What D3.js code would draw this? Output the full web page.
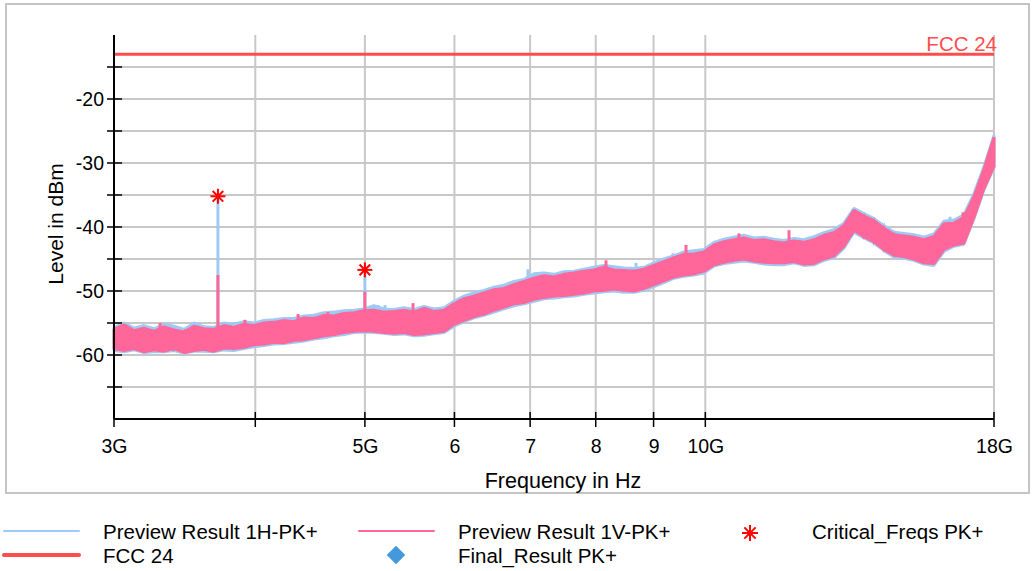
<!DOCTYPE html>
<html>
<head>
<meta charset="utf-8">
<script src="https://cdn.jsdelivr.net/npm/d3@7"></script>
<style>
  body { margin: 0; background: #fff; }
  svg { display: block; font-family: "Liberation Sans", Arial, sans-serif; }
</style>
</head>
<body>
<div class="chart"></div>
<script>
// sample frequencies (GHz) and trace envelopes (dBm)
const freqGHz = [3.000, 3.062, 3.125, 3.189, 3.255, 3.321, 3.390, 3.460, 3.531, 3.603,
  3.677, 3.753, 3.830, 3.909, 3.989, 4.071, 4.155, 4.241, 4.328, 4.417,
  4.508, 4.600, 4.695, 4.792, 4.890, 4.991, 5.093, 5.198, 5.305, 5.414,
  5.526, 5.639, 5.755, 5.874, 5.994, 6.118, 6.244, 6.372, 6.503, 6.637,
  6.773, 6.913, 7.055, 7.200, 7.348, 7.499, 7.653, 7.811, 7.971, 8.135,
  8.303, 8.473, 8.648, 8.826, 9.007, 9.192, 9.381, 9.574, 9.771, 9.972,
  10.177, 10.387, 10.600, 10.818, 11.041, 11.268, 11.500, 11.736, 11.978, 12.224,
  12.475, 12.732, 12.994, 13.261, 13.534, 13.812, 14.096, 14.386, 14.682, 14.984,
  15.292, 15.607, 15.928, 16.255, 16.590, 16.931, 17.279, 17.634, 18.000];

// Preview Result 1V-PK+ (pink)
const vHi = [-56.0, -55.3, -56.2, -55.8, -56.3, -55.6, -56.1, -56.4, -55.5, -55.9,
  -56.0, -55.4, -55.7, -55.2, -55.4, -55.0, -54.9, -54.6, -54.8, -54.2,
  -54.3, -53.8, -53.9, -53.5, -53.4, -53.1, -53.0, -53.3, -53.2, -53.0,
  -53.3, -52.7, -53.2, -53.0, -52.0, -51.2, -50.8, -50.3, -49.8, -49.6,
  -49.0, -48.5, -48.0, -47.6, -47.8, -47.4, -47.2, -46.9, -46.7, -46.3,
  -46.7, -46.8, -46.9, -46.6, -46.0, -45.4, -44.8, -44.3, -44.2, -43.9,
  -42.8, -42.3, -42.0, -41.7, -42.1, -42.0, -42.3, -42.5, -42.2, -42.4,
  -42.0, -41.3, -40.9, -39.8, -37.4, -38.3, -39.0, -40.2, -41.2, -41.4,
  -41.6, -42.0, -41.5, -39.5, -39.4, -38.5, -35.3, -31.0, -26.0];
const vLo = [-59.0, -59.3, -59.0, -59.5, -59.2, -59.4, -59.0, -59.6, -59.3, -59.1,
  -59.4, -58.9, -59.0, -58.8, -58.4, -58.3, -58.0, -58.1, -57.7, -57.6,
  -57.3, -57.0, -56.8, -56.5, -56.3, -56.2, -56.3, -56.5, -56.6, -56.5,
  -56.8, -56.7, -56.5, -56.3, -55.2, -54.6, -54.0, -53.6, -53.0, -52.5,
  -52.0, -51.8, -51.3, -51.0, -50.8, -50.7, -50.5, -50.3, -50.0, -49.9,
  -49.7, -49.9, -50.0, -49.6, -49.0, -48.4, -47.8, -47.5, -47.3, -46.9,
  -45.9, -45.5, -45.2, -45.0, -45.3, -45.5, -45.6, -45.6, -45.4, -45.8,
  -45.7, -45.0, -44.5, -43.0, -40.5, -41.5, -42.3, -43.5, -44.4, -44.6,
  -45.0, -45.6, -45.7, -43.5, -42.8, -42.5, -38.5, -34.0, -30.5];

// Preview Result 1H-PK+ (light blue)
const hHi = [-55.7, -55.0, -55.8, -55.4, -55.9, -55.2, -55.5, -56.0, -55.0, -55.6,
  -55.7, -55.0, -55.2, -54.8, -55.0, -54.6, -54.5, -54.3, -54.3, -53.9,
  -53.8, -53.4, -53.3, -53.1, -53.0, -52.8, -52.3, -52.8, -52.9, -52.6,
  -52.9, -52.4, -52.8, -52.6, -51.6, -50.8, -50.3, -49.9, -49.4, -49.1,
  -48.5, -48.2, -47.3, -47.2, -47.4, -47.0, -46.9, -46.6, -46.3, -46.0,
  -46.2, -46.4, -46.5, -46.3, -45.6, -45.0, -44.5, -43.9, -43.7, -43.5,
  -42.4, -41.9, -41.6, -41.3, -41.7, -41.6, -41.9, -42.1, -41.8, -42.0,
  -41.5, -40.9, -40.4, -39.4, -37.1, -37.9, -38.7, -39.8, -40.8, -41.0,
  -41.2, -41.6, -41.1, -39.1, -38.9, -38.1, -34.8, -30.6, -25.7];
const hLo = [-59.3, -59.5, -59.2, -59.6, -59.5, -59.5, -59.3, -59.7, -59.4, -59.4,
  -59.5, -59.2, -59.3, -59.0, -58.7, -58.5, -58.3, -58.2, -58.0, -57.8,
  -57.5, -57.3, -57.0, -56.8, -56.5, -56.4, -56.5, -56.6, -56.8, -56.7,
  -57.0, -56.9, -56.7, -56.5, -55.5, -54.8, -54.2, -53.8, -53.3, -52.8,
  -52.3, -52.0, -51.6, -51.2, -51.1, -50.9, -50.8, -50.5, -50.3, -50.1,
  -50.0, -50.2, -50.2, -49.9, -49.3, -48.7, -48.0, -47.7, -47.5, -47.2,
  -46.1, -45.7, -45.5, -45.3, -45.5, -45.8, -45.9, -45.9, -45.6, -46.0,
  -45.9, -45.2, -44.8, -43.3, -40.8, -41.7, -42.5, -43.7, -44.7, -44.9,
  -45.2, -45.8, -46.0, -43.8, -43.0, -42.7, -38.7, -34.2, -30.7];

// single noise peaks poking out of the band (freq GHz, peak dBm, trace)
const peakFreq  = [3.295, 3.531, 3.917, 4.364, 4.638, 5.135, 5.209, 5.515, 6.970, 8.169,
  8.684, 9.363, 9.614, 10.710, 11.858, 13.049, 16.358, 16.459, 16.900];
const peakLevel = [-55.0, -55.2, -54.5, -53.6, -53.3, -52.2, -52.2, -51.9, -46.6, -45.2,
  -45.6, -44.1, -42.8, -41.0, -40.5, -40.0, -38.9, -38.4, -37.7];
const peakTrace = ["V", "H", "V", "V", "V", "H", "H", "V", "H", "V",
  "H", "H", "V", "V", "V", "H", "H", "H", "V"];

// narrow carriers sticking out of the noise
const spikeFreq = [3.707, 5.0];
const spikeH = [-35.2, -46.7];
const spikeV = [-47.5, -50.1];

// Critical_Freqs PK+
const critFreq = [3.707, 5.0];
const critLevel = [-35.2, -46.7];

const fccLimit = -13;
const xTickVals = [3, 4, 5, 6, 7, 8, 9, 10, 18];
const xTickText = ["3G", "", "5G", "6", "7", "8", "9", "10G", "18G"];
const yMajor = [-20, -30, -40, -50, -60];
const yGrid = [-15, -20, -25, -30, -35, -40, -45, -50, -55, -60, -65];

const legendItems = [
  { label: "Preview Result 1H-PK+", kind: "line", color: "#9fcaf5", w: 2, col: 0, row: 0 },
  { label: "FCC 24", kind: "line", color: "#ff4d4d", w: 4, col: 0, row: 1 },
  { label: "Preview Result 1V-PK+", kind: "line", color: "#ff6699", w: 2, col: 1, row: 0 },
  { label: "Final_Result PK+", kind: "diamond", color: "#4499dd", col: 1, row: 1 },
  { label: "Critical_Freqs PK+", kind: "star", color: "#ff0000", col: 2, row: 0 }
];

const W = 1035, H = 571;
const pLeft = 114, pRight = 994, pTop = 35, pBottom = 419;
const blue = "#9fcaf5", pink = "#ff6699";

const svg = d3.select(".chart").append("svg")
    .attr("width", W).attr("height", H);

// outer frame
svg.append("rect").attr("x", 6).attr("y", 4).attr("width", 1023).attr("height", 489)
    .attr("fill", "#fff").attr("stroke", "#c4c4c4").attr("stroke-width", 2);

const x = d3.scaleLog().domain([3, 18]).range([pLeft, pRight]);
const y = d3.scaleLinear().domain([-70, -10]).range([pBottom, pTop]);

// grid
svg.append("g").selectAll("line").data(yGrid).join("line")
    .attr("x1", pLeft).attr("x2", pRight)
    .attr("y1", d => y(d)).attr("y2", d => y(d))
    .attr("stroke", "#c8c8c8").attr("stroke-width", 2);
svg.append("g").selectAll("line").data(xTickVals.slice(1)).join("line")
    .attr("x1", d => x(d)).attr("x2", d => x(d))
    .attr("y1", pTop).attr("y2", pBottom)
    .attr("stroke", "#c8c8c8").attr("stroke-width", 2);

// traces
const idx = d3.range(freqGHz.length);
const band = function(hi, lo) {
    return d3.area()
        .x(i => x(freqGHz[i]))
        .y0(i => y(lo[i]))
        .y1(i => y(hi[i]))
        .curve(d3.curveLinear)(idx);
};
const zigzag = function(hi, lo) {
    var pts = [];
    idx.forEach(i => { pts.push([x(freqGHz[i]), y(hi[i])]); pts.push([x(freqGHz[i]), y(lo[i])]); });
    return d3.line()(pts);
};
const drawTrace = function(key, hi, lo, color, spikes) {
    svg.append("path").attr("d", band(hi, lo)).attr("fill", color)
        .attr("stroke", color).attr("stroke-width", 3).attr("stroke-linejoin", "bevel");
    svg.append("path").attr("d", zigzag(hi, lo)).attr("fill", "none")
        .attr("stroke", color).attr("stroke-width", 2);
    svg.append("g").selectAll("line").data(peakFreq.filter((f, i) => peakTrace[i] == key)).join("line")
        .attr("x1", d => x(d)).attr("x2", d => x(d))
        .attr("y1", d => y(peakLevel[peakFreq.indexOf(d)]))
        .attr("y2", d => y(peakLevel[peakFreq.indexOf(d)] - 3))
        .attr("stroke", color).attr("stroke-width", 3);
    svg.append("g").selectAll("line").data(spikeFreq).join("line")
        .attr("x1", d => x(d)).attr("x2", d => x(d))
        .attr("y1", (d, i) => y(spikes[i])).attr("y2", y(-56))
        .attr("stroke", color).attr("stroke-width", 3);
};
drawTrace("H", hHi, hLo, blue, spikeH);
drawTrace("V", vHi, vLo, pink, spikeV);

// limit line
svg.append("line").attr("x1", pLeft).attr("x2", pRight)
    .attr("y1", y(fccLimit)).attr("y2", y(fccLimit))
    .attr("stroke", "#ff4d4d").attr("stroke-width", 3);
svg.append("text").attr("x", pRight + 3).attr("y", y(fccLimit) - 3)
    .attr("text-anchor", "end").attr("fill", "#ff4d4d").attr("font-size", 20.5)
    .text("FCC 24");

// star marker
const star = function(g, cx, cy, r, color) {
    [0, 45, 90, 135].forEach(a => {
        const t = a * Math.PI / 180;
        g.append("line")
            .attr("x1", cx - r * Math.cos(t)).attr("y1", cy - r * Math.sin(t))
            .attr("x2", cx + r * Math.cos(t)).attr("y2", cy + r * Math.sin(t))
            .attr("stroke", color).attr("stroke-width", 2);
    });
};
critFreq.forEach((f, i) => star(svg, x(f), y(critLevel[i]), 7.5, "#ff0000"));

// axes
const yAxis = d3.axisLeft(y).tickValues(d3.range(-65, -10, 5))
    .tickFormat(d => yMajor.includes(d) ? d : "").tickSize(0).tickPadding(10);
const gy = svg.append("g").attr("transform", `translate(${pLeft},0)`).call(yAxis);
gy.select(".domain").remove();
gy.selectAll("text").attr("font-size", 19.5).attr("fill", "#000")
    .attr("font-family", "Liberation Sans, Arial, sans-serif");
svg.append("g").selectAll("line").data(d3.range(-65, -10, 5)).join("line")
    .attr("x1", pLeft - 7).attr("x2", pLeft + 8)
    .attr("y1", d => y(d)).attr("y2", d => y(d))
    .attr("stroke", "#000").attr("stroke-width", 1.5);
svg.append("line").attr("x1", pLeft).attr("x2", pLeft).attr("y1", pTop).attr("y2", pBottom)
    .attr("stroke", "#000").attr("stroke-width", 2);

const xAxis = d3.axisBottom(x).tickValues(xTickVals)
    .tickFormat((d, i) => xTickText[i]).tickSize(0).tickPadding(20);
const gx = svg.append("g").attr("transform", `translate(0,${pBottom})`).call(xAxis);
gx.select(".domain").remove();
gx.selectAll("text").attr("font-size", 19.5).attr("fill", "#000")
    .attr("font-family", "Liberation Sans, Arial, sans-serif");
svg.append("g").selectAll("line").data(xTickVals).join("line")
    .attr("x1", d => x(d)).attr("x2", d => x(d))
    .attr("y1", pBottom - 7).attr("y2", pBottom + 8)
    .attr("stroke", "#000").attr("stroke-width", 1.5);
svg.append("line").attr("x1", pLeft).attr("x2", pRight).attr("y1", pBottom).attr("y2", pBottom)
    .attr("stroke", "#000").attr("stroke-width", 2);

// axis titles
svg.append("text").attr("x", 563).attr("y", 488)
    .attr("text-anchor", "middle").attr("font-size", 21.5).text("Frequency in Hz");
svg.append("text").attr("transform", "translate(63,224) rotate(-90)")
    .attr("text-anchor", "middle").attr("font-size", 21).text("Level in dBm");

// legend
const colX = [4, 359, 714];
const rowY = [531, 555];
legendItems.forEach(it => {
    const lx = colX[it.col], ly = rowY[it.row];
    if (it.kind == "line") {
        svg.append("line").attr("x1", lx).attr("x2", lx + 75).attr("y1", ly).attr("y2", ly)
            .attr("stroke", it.color).attr("stroke-width", it.w).attr("stroke-linecap", "round");
    } else if (it.kind == "diamond") {
        svg.append("path").attr("d", d3.symbol(d3.symbolDiamond2, 220)())
            .attr("transform", `translate(${lx + 37},${ly})`).attr("fill", it.color);
    } else {
        star(svg, lx + 36, ly + 2, 8, it.color);
    }
    svg.append("text").attr("x", lx + (it.col == 2 ? 98 : 99)).attr("y", ly + 8)
        .attr("font-size", 20.5).attr("fill", "#000").text(it.label);
});
</script>
</body>
</html>
